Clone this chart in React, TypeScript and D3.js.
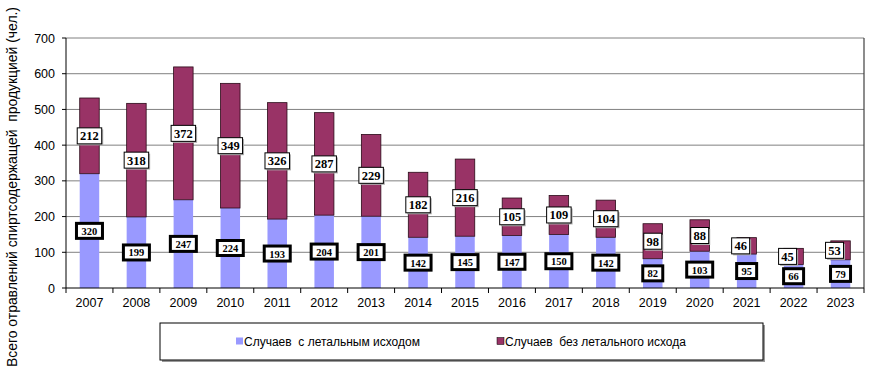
import React from "react";
import * as d3 from "d3";

const years = ["2007","2008","2009","2010","2011","2012","2013","2014","2015","2016","2017","2018","2019","2020","2021","2022","2023"];
const fatal = [320,199,247,224,193,204,201,142,145,147,150,142,82,103,95,66,79];
const nonFatal = [212,318,372,349,326,287,229,182,216,105,109,104,98,88,46,45,53];
const yTicks = [0,100,200,300,400,500,600,700];
const seriesNames = ["Случаев  с летальным исходом", "Случаев  без летального исхода"];
const yTitle = "Всего отравлений спиртсодержащей  продукцией (чел.)";

const W = 884, H = 373;
const left = 66, right = 864, top = 38, bottom = 288;
const C_FATAL = "#9999FF";
const C_NON = "#993366";

export default function App() {
  const x = d3.scaleBand().domain(years).range([left, right]).paddingInner(0).paddingOuter(0);
  const y = d3.scaleLinear().domain([0, 700]).range([bottom, top]);
  const bw = 19.5;
  const lblFont = "'Times New Roman', 'Liberation Serif', serif";
  return (
    <svg width={W} height={H} style={{ position: "absolute", left: 0, top: 0, background: "#fff" }}
      fontFamily="Arial, 'Liberation Sans', sans-serif">
      {yTicks.map(t => (
        <g key={t}>
          {t > 0 && <line x1={left} x2={right} y1={y(t)} y2={y(t)} stroke="#808080" strokeWidth={1} />}
          <line x1={left - 4} x2={left} y1={y(t)} y2={y(t)} stroke="#000" />
          <text x={55} y={y(t) + 4.5} textAnchor="end" fontSize={12.5} fill="#000">{t}</text>
        </g>
      ))}
      <line x1={right} x2={right} y1={top} y2={bottom} stroke="#404040" strokeWidth={1.2} />
      {years.map((yr, i) => {
        const cx = x(yr)! + x.bandwidth() / 2;
        const y0 = y(0), y1 = y(fatal[i]), y2 = y(fatal[i] + nonFatal[i]);
        return (
          <g key={yr}>
            <rect x={cx - bw / 2} y={y1} width={bw} height={y0 - y1} fill={C_FATAL} />
            <rect x={cx - bw / 2} y={y2} width={bw} height={y1 - y2} fill={C_NON} stroke="#2a0a18" strokeWidth={0.8} />
          </g>
        );
      })}
      <line x1={left} x2={left} y1={top} y2={bottom} stroke="#000" />
      <line x1={left} x2={right} y1={bottom} y2={bottom} stroke="#000" />
      {years.map((yr) => (
        <line key={"t" + yr} x1={x(yr)!} x2={x(yr)!} y1={bottom} y2={bottom + 5} stroke="#000" />
      ))}
      <line x1={right} x2={right} y1={bottom} y2={bottom + 5} stroke="#000" />
      {years.map(yr => (
        <text key={"l" + yr} x={x(yr)! + x.bandwidth() / 2} y={bottom + 19} textAnchor="middle" fontSize={12.5}>{yr}</text>
      ))}
      {years.map((yr, i) => {
        const cx = x(yr)! + x.bandwidth() / 2;
        const s1 = String(fatal[i]);
        const s2 = String(nonFatal[i]);
        const w1 = s1.length * 6 + 8;
        const w2 = s2.length * 6.5 + 5;
        const m1 = y(fatal[i] / 2);
        const m2 = y(fatal[i] + nonFatal[i] / 2);
        const off2 = i >= 14 ? -6 : 0;
        return (
          <g key={"b" + yr}>
            <rect x={cx - w1 / 2} y={m1 - 7.5} width={w1} height={15} fill="#fff" stroke="#000" strokeWidth={3} />
            <text x={cx} y={m1 + 4} textAnchor="middle" fontSize={10.5} fontWeight="bold" fontFamily={lblFont}>{s1}</text>
            <rect x={cx + off2 - w2 / 2 + 1.5} y={m2 - 8 + 1.5} width={w2} height={16} fill="#b0b0b0" />
            <rect x={cx + off2 - w2 / 2} y={m2 - 8} width={w2} height={16} fill="#fff" stroke="#000" strokeWidth={1} />
            <text x={cx + off2} y={m2 + 4.5} textAnchor="middle" fontSize={12.5} fontWeight="bold" fontFamily={lblFont}>{s2}</text>
          </g>
        );
      })}
      <text transform={`translate(17,${187}) rotate(-90)`} textAnchor="middle" fontSize={14} textLength={360} lengthAdjust="spacingAndGlyphs" style={{ whiteSpace: "pre" }}>{yTitle}</text>
      <rect x={162} y={325} width={603} height={37} fill="#999" />
      <rect x={160} y={323} width={603} height={37} fill="#fff" stroke="#000" strokeWidth={1} />
      <rect x={236} y={337.5} width={7} height={7} fill={C_FATAL} />
      <text x={244} y={345.5} fontSize={12} style={{ whiteSpace: "pre" }}>{seriesNames[0]}</text>
      <rect x={497} y={337.5} width={7} height={7} fill={C_NON} stroke="#000" strokeWidth={0.5} />
      <text x={505} y={345.5} fontSize={12} style={{ whiteSpace: "pre" }}>{seriesNames[1]}</text>
    </svg>
  );
}
